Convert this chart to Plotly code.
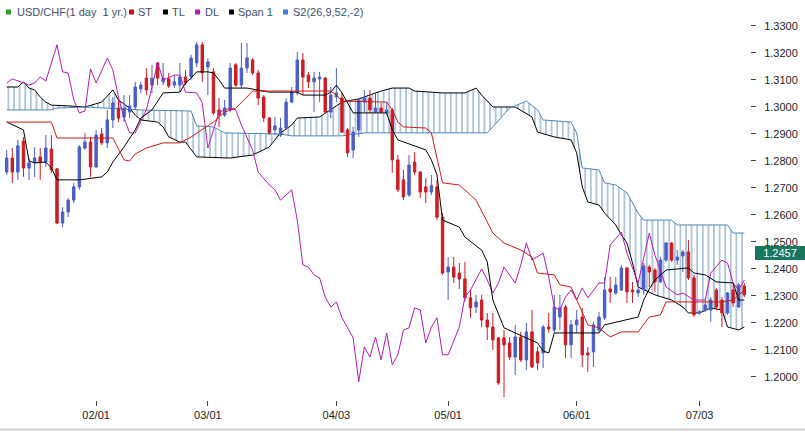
import pandas as pd
import plotly.graph_objects as go

# ---------------- data (USD/CHF daily, 2006) ----------------
dates = pd.bdate_range("2006-01-10", "2006-07-13")          # 133 trading days
tick_dates = ["2006-02-01", "2006-03-01", "2006-04-03", "2006-05-01", "2006-06-01", "2006-07-03"]

open_ = [1.2758, 1.2810, 1.2758, 1.2873, 1.2773, 1.2792, 1.2814, 1.2795, 1.2843, 1.2770,
         1.2569, 1.2610, 1.2654, 1.2703, 1.2847, 1.2869, 1.2777, 1.2899, 1.2866, 1.2951,
         1.2995, 1.2962, 1.2980, 1.2999, 1.3066, 1.3106, 1.3080, 1.3162, 1.3092, 1.3103,
         1.3080, 1.3080, 1.3110, 1.3110, 1.3162, 1.3229, 1.3147, 1.3129, 1.2988, 1.2969,
         1.2988, 1.3155, 1.3080, 1.3143, 1.3173, 1.3125, 1.3036, 1.2958, 1.2914, 1.2895,
         1.2921, 1.3017, 1.3051, 1.3173, 1.3117, 1.3092, 1.3103, 1.3106, 1.2980, 1.3036,
         1.3032, 1.2914, 1.2840, 1.2914, 1.3017, 1.3032, 1.2980, 1.2995, 1.2977, 1.2988,
         1.2803, 1.2729, 1.2673, 1.2795, 1.2758, 1.2703, 1.2684, 1.2703, 1.2591, 1.2388,
         1.2406, 1.2384, 1.2362, 1.2292, 1.2258, 1.2284, 1.2210, 1.2184, 1.2144, 1.2144,
         1.2125, 1.2073, 1.2147, 1.2062, 1.2166, 1.2092, 1.2088, 1.2184, 1.2173, 1.2221,
         1.2258, 1.2118, 1.2192, 1.2221, 1.2088, 1.2092, 1.2173, 1.2218, 1.2325, 1.2310,
         1.2321, 1.2403, 1.2321, 1.2310, 1.2321, 1.2406, 1.2395, 1.2351, 1.2432, 1.2495,
         1.2432, 1.2447, 1.2462, 1.2366, 1.2236, 1.2247, 1.2247, 1.2321, 1.2284, 1.2236,
         1.2321, 1.2258, 1.2336]

high = [1.2840, 1.2847, 1.2877, 1.2888, 1.2810, 1.2851, 1.2847, 1.2895, 1.2895, 1.2773,
        1.2628, 1.2662, 1.2718, 1.2858, 1.2903, 1.2888, 1.2914, 1.2921, 1.2988, 1.3036,
        1.3025, 1.3043, 1.3043, 1.3092, 1.3092, 1.3143, 1.3155, 1.3166, 1.3162, 1.3125,
        1.3117, 1.3162, 1.3136, 1.3192, 1.3240, 1.3240, 1.3180, 1.3143, 1.3032, 1.3025,
        1.3162, 1.3162, 1.3236, 1.3236, 1.3180, 1.3136, 1.3043, 1.2962, 1.2962, 1.2958,
        1.3032, 1.3073, 1.3203, 1.3199, 1.3129, 1.3129, 1.3129, 1.3110, 1.3073, 1.3143,
        1.3051, 1.2921, 1.2925, 1.3032, 1.3062, 1.3062, 1.3054, 1.3014, 1.3017, 1.2995,
        1.2821, 1.2766, 1.2821, 1.2832, 1.2762, 1.2736, 1.2747, 1.2729, 1.2606, 1.2443,
        1.2443, 1.2421, 1.2425, 1.2321, 1.2303, 1.2303, 1.2236, 1.2236, 1.2147, 1.2173,
        1.2147, 1.2192, 1.2166, 1.2199, 1.2247, 1.2110, 1.2192, 1.2236, 1.2303, 1.2303,
        1.2266, 1.2210, 1.2247, 1.2255, 1.2110, 1.2203, 1.2240, 1.2369, 1.2369, 1.2369,
        1.2414, 1.2406, 1.2351, 1.2347, 1.2421, 1.2414, 1.2403, 1.2443, 1.2499, 1.2499,
        1.2469, 1.2469, 1.2506, 1.2377, 1.2247, 1.2284, 1.2295, 1.2329, 1.2295, 1.2314,
        1.2340, 1.2347, 1.2347]

low = [1.2747, 1.2718, 1.2729, 1.2740, 1.2729, 1.2740, 1.2729, 1.2777, 1.2755, 1.2565,
       1.2554, 1.2591, 1.2643, 1.2692, 1.2840, 1.2740, 1.2773, 1.2858, 1.2847, 1.2921,
       1.2943, 1.2943, 1.2958, 1.2988, 1.3051, 1.3043, 1.3051, 1.3080, 1.3080, 1.3069,
       1.3069, 1.3054, 1.3080, 1.3099, 1.3147, 1.3092, 1.3043, 1.2969, 1.2925, 1.2962,
       1.2980, 1.3073, 1.3069, 1.3125, 1.3117, 1.3006, 1.2943, 1.2895, 1.2895, 1.2888,
       1.2914, 1.3014, 1.3043, 1.3043, 1.3069, 1.2980, 1.3017, 1.2977, 1.2958, 1.3017,
       1.2903, 1.2814, 1.2810, 1.2888, 1.2980, 1.2977, 1.2977, 1.2977, 1.2969, 1.2755,
       1.2684, 1.2654, 1.2666, 1.2747, 1.2662, 1.2643, 1.2673, 1.2580, 1.2377, 1.2284,
       1.2347, 1.2325, 1.2277, 1.2218, 1.2236, 1.2184, 1.2136, 1.2099, 1.1970, 1.1925,
       1.2062, 1.2006, 1.2055, 1.2025, 1.2032, 1.2025, 1.2032, 1.2162, 1.2162, 1.2173,
       1.2070, 1.2070, 1.2162, 1.2036, 1.2018, 1.2036, 1.2166, 1.2210, 1.2273, 1.2303,
       1.2318, 1.2273, 1.2273, 1.2295, 1.2303, 1.2332, 1.2314, 1.2347, 1.2425, 1.2425,
       1.2414, 1.2388, 1.2358, 1.2221, 1.2229, 1.2240, 1.2203, 1.2247, 1.2184, 1.2229,
       1.2258, 1.2255, 1.2295]

close = [1.2810, 1.2758, 1.2855, 1.2773, 1.2792, 1.2810, 1.2795, 1.2847, 1.2766, 1.2569,
         1.2610, 1.2654, 1.2703, 1.2851, 1.2869, 1.2777, 1.2895, 1.2866, 1.2951, 1.3014,
         1.2958, 1.2995, 1.3003, 1.3073, 1.3080, 1.3062, 1.3106, 1.3106, 1.3106, 1.3077,
         1.3092, 1.3110, 1.3088, 1.3180, 1.3229, 1.3125, 1.3166, 1.2977, 1.2969, 1.2995,
         1.3143, 1.3080, 1.3143, 1.3180, 1.3125, 1.3032, 1.2958, 1.2903, 1.2929, 1.2921,
         1.3017, 1.3054, 1.3173, 1.3110, 1.3092, 1.3106, 1.3110, 1.2980, 1.3043, 1.3051,
         1.2906, 1.2829, 1.2906, 1.3025, 1.3032, 1.2988, 1.2995, 1.2980, 1.2988, 1.2803,
         1.2692, 1.2666, 1.2784, 1.2758, 1.2684, 1.2684, 1.2707, 1.2591, 1.2384, 1.2406,
         1.2369, 1.2362, 1.2292, 1.2255, 1.2277, 1.2210, 1.2184, 1.2136, 1.1977, 1.2118,
         1.2073, 1.2147, 1.2062, 1.2166, 1.2036, 1.2051, 1.2184, 1.2177, 1.2258, 1.2255,
         1.2118, 1.2192, 1.2210, 1.2081, 1.2081, 1.2192, 1.2221, 1.2321, 1.2314, 1.2340,
         1.2403, 1.2314, 1.2314, 1.2321, 1.2410, 1.2388, 1.2351, 1.2432, 1.2495, 1.2432,
         1.2443, 1.2462, 1.2366, 1.2229, 1.2240, 1.2266, 1.2284, 1.2258, 1.2236, 1.2310,
         1.2273, 1.2340, 1.2303]

# indicator lines: (day index, value) at the vertices
st_x = [0, 8, 9, 19, 21, 22, 23, 25, 28, 31, 33, 35, 37, 39, 41, 43, 44, 58, 59, 60,
        68, 69, 70, 71, 75, 76, 78, 81, 84, 87, 89, 92, 94, 95, 98, 99, 101, 104, 106, 108,
        110, 113, 114, 115, 117, 118, 128, 130, 132]
st_v = [1.2943, 1.2943, 1.2884, 1.2884, 1.2803, 1.2799, 1.2825, 1.2847, 1.2866, 1.2866,
        1.2888, 1.2914, 1.2943, 1.2980, 1.2995, 1.3036, 1.3058, 1.3058, 1.3043, 1.3021,
        1.3017, 1.2988, 1.2943, 1.2925, 1.2921, 1.2903, 1.2718, 1.2710, 1.2654, 1.2532,
        1.2495, 1.2469, 1.2443, 1.2384, 1.2377, 1.2340, 1.2332, 1.2192, 1.2181, 1.2147,
        1.2166, 1.2166, 1.2192, 1.2221, 1.2229, 1.2277, 1.2277, 1.2284, 1.2321]

tl_x = [0, 2, 3, 4, 5, 7, 8, 9, 13, 17, 18, 19, 21, 23, 24, 26, 28, 31, 32, 33,
        34, 36, 37, 38, 39, 43, 47, 52, 53, 57, 58, 59, 60, 62, 68, 69, 70, 75, 76, 77,
        78, 81, 82, 85, 86, 87, 89, 91, 95, 96, 97, 98, 106, 107, 113, 114, 115, 116, 118, 122,
        123, 125, 127, 130, 131, 132]
tl_v = [1.2943, 1.2925, 1.2914, 1.2799, 1.2792, 1.2795, 1.2773, 1.2729, 1.2729, 1.2740,
        1.2758, 1.2795, 1.2851, 1.2914, 1.2958, 1.2988, 1.3051, 1.3054, 1.3088, 1.3106,
        1.3129, 1.3129, 1.3125, 1.3099, 1.3069, 1.3069, 1.3054, 1.3054, 1.3043, 1.3043,
        1.3054, 1.3080, 1.3051, 1.2977, 1.2977, 1.2914, 1.2877, 1.2840, 1.2803, 1.2747,
        1.2580, 1.2554, 1.2517, 1.2469, 1.2425, 1.2284, 1.2181, 1.2162, 1.2125, 1.2095,
        1.2088, 1.2162, 1.2162, 1.2192, 1.2221, 1.2284, 1.2325, 1.2358, 1.2395, 1.2403,
        1.2384, 1.2377, 1.2351, 1.2347, 1.2284, 1.2284]

dl_x = [0, 1, 3, 4, 5, 6, 7, 9, 10, 11, 12, 13, 14, 15, 16, 18, 19, 20, 21, 22,
        23, 25, 26, 27, 28, 30, 31, 32, 34, 35, 36, 37, 38, 40, 41, 42, 44, 45, 47, 48,
        49, 50, 51, 52, 53, 54, 55, 56, 57, 58, 59, 60, 61, 62, 63, 64, 65, 66, 67, 68,
        69, 70, 71, 72, 73, 74, 75, 76, 77, 78, 79, 81, 82, 83, 85, 86, 87, 88, 89, 91,
        92, 93, 94, 96, 97, 98, 99, 100, 101, 102, 103, 104, 106, 107, 108, 110, 111, 113, 114, 115,
        116, 117, 118, 120, 121, 123, 125, 126, 128, 129, 130, 131, 132]
dl_v = [1.3088, 1.3103, 1.3088, 1.3080, 1.3088, 1.3110, 1.3095, 1.3229, 1.3129, 1.3125,
        1.3025, 1.2977, 1.2984, 1.3140, 1.3088, 1.3180, 1.3136, 1.3036, 1.2958, 1.2903,
        1.2903, 1.2988, 1.3073, 1.3162, 1.3099, 1.3117, 1.3117, 1.3054, 1.3051, 1.3014,
        1.2847, 1.2914, 1.2980, 1.2995, 1.2988, 1.2932, 1.2840, 1.2758, 1.2710, 1.2692,
        1.2654, 1.2673, 1.2692, 1.2580, 1.2414, 1.2406, 1.2377, 1.2366, 1.2295, 1.2258,
        1.2277, 1.2218, 1.2181, 1.2144, 1.1981, 1.2110, 1.2073, 1.2147, 1.2062, 1.2162,
        1.2044, 1.2081, 1.2173, 1.2181, 1.2255, 1.2247, 1.2125, 1.2184, 1.2218, 1.2081,
        1.2081, 1.2184, 1.2295, 1.2321, 1.2399, 1.2358, 1.2310, 1.2347, 1.2406, 1.2347,
        1.2414, 1.2495, 1.2432, 1.2458, 1.2369, 1.2258, 1.2247, 1.2295, 1.2321, 1.2284,
        1.2329, 1.2292, 1.2347, 1.2347, 1.2488, 1.2536, 1.2458, 1.2347, 1.2440, 1.2532,
        1.2451, 1.2388, 1.2332, 1.2303, 1.2310, 1.2284, 1.2284, 1.2384, 1.2432, 1.2421,
        1.2347, 1.2321, 1.2358]

s1_x = [0, 2, 3, 4, 5, 6, 7, 8, 11, 14, 17, 19, 20, 22, 23, 24, 27, 28, 29, 31,
        32, 34, 40, 44, 47, 49, 51, 52, 56, 58, 60, 63, 67, 69, 72, 73, 78, 82, 84, 85,
        87, 91, 94, 95, 98, 101, 102, 103, 104, 106, 107, 109, 110, 111, 112, 113, 115, 116, 119, 121,
        122, 124, 126, 128, 129, 131, 132]
s1_v = [1.3073, 1.3073, 1.3092, 1.3069, 1.3062, 1.3036, 1.3017, 1.3006, 1.3003, 1.2999,
        1.3017, 1.3062, 1.3025, 1.2995, 1.2969, 1.2951, 1.2943, 1.2925, 1.2888, 1.2869,
        1.2869, 1.2814, 1.2810, 1.2821, 1.2851, 1.2903, 1.2932, 1.2958, 1.2962, 1.2988,
        1.3017, 1.3029, 1.3058, 1.3069, 1.3069, 1.3058, 1.3051, 1.3051, 1.3069, 1.3043,
        1.2999, 1.2999, 1.2962, 1.2906, 1.2888, 1.2877, 1.2829, 1.2703, 1.2647, 1.2636,
        1.2606, 1.2562, 1.2525, 1.2495, 1.2421, 1.2332, 1.2314, 1.2303, 1.2284, 1.2258,
        1.2236, 1.2236, 1.2255, 1.2247, 1.2184, 1.2173, 1.2184]

s2_x = [0, 8, 9, 14, 24, 33, 34, 37, 39, 49, 51, 60, 64, 86, 87, 90, 91, 93, 95, 96,
        101, 102, 103, 106, 107, 109, 111, 113, 114, 119, 120, 129, 130, 132]
s2_v = [1.2988, 1.2988, 1.2995, 1.2999, 1.2988, 1.2984, 1.2929, 1.2925, 1.2903, 1.2899,
        1.2892, 1.2892, 1.2903, 1.2903, 1.2925, 1.2995, 1.3003, 1.3021, 1.2988, 1.2951,
        1.2943, 1.2903, 1.2773, 1.2766, 1.2718, 1.2710, 1.2681, 1.2606, 1.2580, 1.2580,
        1.2562, 1.2562, 1.2532, 1.2532]

last_price = 1.2457
y_ticks = [1.20, 1.21, 1.22, 1.23, 1.24, 1.25, 1.26, 1.27, 1.28, 1.29, 1.30, 1.31, 1.32, 1.33]

legend_items = [("USD/CHF(1 day  1 yr.)", "#2ca02c"), ("ST", "#cc1111"), ("TL", "#000000"),
                ("DL", "#b31cb3"), ("Span 1", "#000000"), ("S2(26,9,52,-2)", "#3f7fd0")]

# ---------------- figure ----------------
idx = list(range(len(dates)))
tickvals = [dates.get_loc(pd.Timestamp(d)) for d in tick_dates]
ticktext = [pd.Timestamp(d).strftime("%m/%d") for d in tick_dates]

FONT = "Liberation Sans, Arial, sans-serif"
W, H = 805, 432
L, R, T, B = 0, 55, 20, 32
PW, PH = W - L - R, H - T - B
XR = [-1.2, 133.02]
YR = [1.19137, 1.33211]

def px(xp):
    return (xp - L) / PW

def py(yp):
    return (H - B - yp) / PH

fig = go.Figure()

# cloud (base subplot, drawn beneath candles)
fig.add_trace(go.Scatter(x=s1_x, y=s1_v, mode="lines", line=dict(color="#000000", width=1),
                         hoverinfo="skip", showlegend=False))
fig.add_trace(go.Scatter(x=s2_x, y=s2_v, mode="lines", line=dict(color="#4f86b8", width=1),
                         fill="tonexty", fillcolor="rgba(0,0,0,0)",
                         fillpattern=dict(shape="|", size=5.6, solidity=0.2,
                                          fgcolor="#3f76a8", fgopacity=0.7,
                                          bgcolor="rgba(0,0,0,0)"),
                         hoverinfo="skip", showlegend=False))

# candles + lines on overlay subplot
fig.add_trace(go.Candlestick(x=idx, open=open_, high=high, low=low, close=close,
                             increasing=dict(line=dict(color="#4a5ec8", width=1), fillcolor="#4a5ec8"),
                             decreasing=dict(line=dict(color="#cc1c24", width=1), fillcolor="#cc1c24"),
                             whiskerwidth=0, xaxis="x2", yaxis="y2", showlegend=False))
fig.add_trace(go.Scatter(x=dl_x, y=dl_v, mode="lines", line=dict(color="#b31cb3", width=1),
                         xaxis="x2", yaxis="y2", showlegend=False))
fig.add_trace(go.Scatter(x=tl_x, y=tl_v, mode="lines", line=dict(color="#000000", width=1),
                         xaxis="x2", yaxis="y2", showlegend=False))
fig.add_trace(go.Scatter(x=st_x, y=st_v, mode="lines", line=dict(color="#d01818", width=1),
                         xaxis="x2", yaxis="y2", showlegend=False))

shapes = []
annotations = []
# legend row
sq_x = [6, 129, 163, 195, 229, 283]
tx_x = [17, 138, 172, 205, 238, 293]
for (label, col), sx, tx in zip(legend_items, sq_x, tx_x):
    shapes.append(dict(type="rect", xref="paper", yref="paper",
                       x0=px(sx), x1=px(sx + 5), y0=py(14.5), y1=py(9.5),
                       fillcolor=col, line=dict(width=0)))
    annotations.append(dict(text=label, xref="paper", yref="paper", x=px(tx), y=py(12),
                            xanchor="left", yanchor="middle", showarrow=False,
                            borderpad=0, borderwidth=0,
                            font=dict(family=FONT, size=11, color="#3d4f6b")))
# last price tag
annotations.append(dict(text=f"{last_price:.4f}", xref="paper", yref="y", x=px(755), y=last_price,
                        xanchor="left", yanchor="middle", showarrow=False,
                        bgcolor="#18785e", width=48, height=12, borderpad=1, borderwidth=0,
                        align="center", font=dict(family=FONT, size=11, color="#ffffff")))
# bottom frame line
shapes.append(dict(type="line", xref="paper", yref="paper", x0=0, x1=px(W), y0=py(429.5), y1=py(429.5),
                   line=dict(color="#d2d2d2", width=2)))

fig.update_layout(
    width=W, height=H, margin=dict(l=L, r=R, t=T, b=B),
    paper_bgcolor="white", plot_bgcolor="white",
    showlegend=False, boxgap=0.38,
    font=dict(family=FONT, size=11, color="#222222"),
    xaxis=dict(range=XR, tickmode="array", tickvals=tickvals, ticktext=ticktext,
               showgrid=False, zeroline=False, showline=False,
               ticks="outside", ticklen=5, tickcolor="#444444",
               tickfont=dict(family=FONT, size=11, color="#222222"),
               rangeslider=dict(visible=False), fixedrange=True),
    yaxis=dict(range=YR, side="right", tickmode="array", tickvals=y_ticks, tickformat=".4f",
               showgrid=False, zeroline=False, showline=False,
               ticks="outside", ticklen=5, tickcolor="#444444", ticklabelstandoff=6,
               tickfont=dict(family=FONT, size=11, color="#222222"), fixedrange=True),
    xaxis2=dict(range=XR, overlaying="x", visible=False, rangeslider=dict(visible=False)),
    yaxis2=dict(range=YR, overlaying="y", side="right", visible=False),
    shapes=shapes, annotations=annotations,
)

fig.write_html("out.html")
